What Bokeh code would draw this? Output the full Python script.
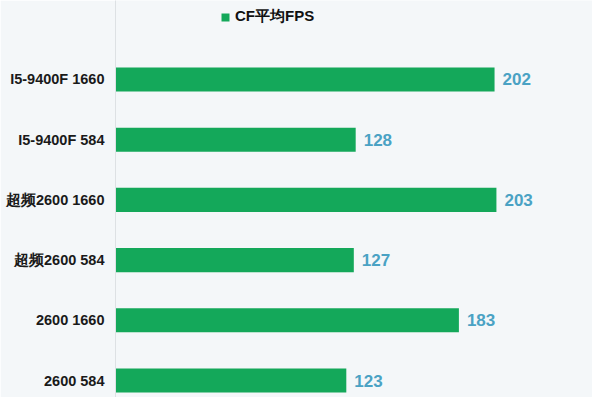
from bokeh.plotting import figure
from bokeh.models import ColumnDataSource, FixedTicker, Legend, LegendItem, Range1d
from bokeh.core.properties import value
from bokeh.embed import file_html
from bokeh.resources import INLINE

categories = ["I5-9400F 1660", "I5-9400F 584", "超频2600 1660", "超频2600 584", "2600 1660", "2600 584"]
fps = [202, 128, 203, 127, 183, 123]
series_name = "CF平均FPS"

n = len(categories)
ypos = [n - 1 - i for i in range(n)]
src = ColumnDataSource(dict(y=ypos, v=fps, lbl=[str(v) for v in fps], cat=categories))

BG = "#f4f7f9"
p = figure(width=592, height=397, output_backend="svg", toolbar_location=None,
           x_range=Range1d(0, 254.2), y_range=Range1d(-0.282, 6.312),
           min_border_left=115, min_border_right=0, min_border_top=0, min_border_bottom=0,
           background_fill_color=BG, border_fill_color=BG, outline_line_color=None)

r = p.hbar(y="y", right="v", left=0, height=0.4, source=src, color="#14a85a", line_color=None)
p.text(x="v", y="y", text="lbl", source=src, x_offset=8, text_baseline="middle", text_align="left",
       text_font=value("Liberation Sans"), text_font_style="bold", text_font_size="17px",
       text_color="#4aa2c4")

p.xaxis.visible = False
p.xgrid.visible = False
p.ygrid.visible = False
ax = p.yaxis[0]
ax.ticker = FixedTicker(ticks=ypos)
ax.major_label_overrides = {y: c for y, c in zip(ypos, categories)}
ax.major_tick_line_color = None
ax.minor_tick_line_color = None
ax.major_tick_out = 0
ax.major_label_standoff = 11
ax.axis_line_color = "#dde1e4"
ax.major_label_text_font = "Liberation Sans"
ax.major_label_text_font_style = "bold"
ax.major_label_text_font_size = "14.5px"
ax.major_label_text_color = "#1a1a1a"

legend = Legend(items=[LegendItem(label=series_name, renderers=[r])], orientation="horizontal",
                location=(105, 371), border_line_color=None, background_fill_alpha=0,
                margin=0, padding=0, spacing=0, glyph_width=10, glyph_height=10,
                label_standoff=5, label_text_font="Liberation Sans", label_text_font_style="bold",
                label_text_font_size="15px", label_text_color="#111111", label_height=14)
p.add_layout(legend)

open("out.html", "w").write(file_html(p, INLINE))
